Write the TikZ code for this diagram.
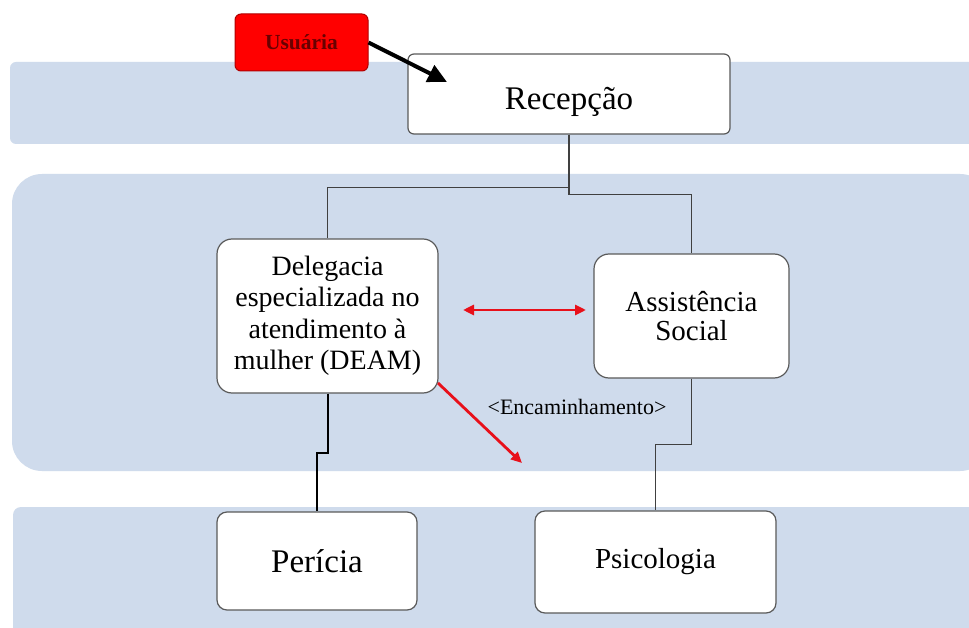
\documentclass[tikz,border=0pt]{standalone}
\usepackage{fontspec}
\setmainfont{Liberation Serif}
\usetikzlibrary{arrows.meta,calc}
\definecolor{band}{HTML}{CFDBEC}
\definecolor{boxline}{HTML}{5A5A5A}
\definecolor{usufill}{HTML}{FF0000}
\definecolor{usuline}{HTML}{B00000}
\definecolor{usutext}{HTML}{6A0000}
\definecolor{redarrow}{HTML}{E8101A}
\definecolor{connline}{HTML}{404040}
\tikzset{
  bandshape/.style={fill=band, draw=none},
  whitebox/.style={draw=boxline, fill=white, line width=1.2pt, align=center, inner sep=0pt},
  usubox/.style={draw=usuline, fill=usufill, line width=1pt, rounded corners=6pt, inner sep=0pt,
    minimum width=133pt, minimum height=57pt, text=usutext, font=\bfseries\fontsize{21.5}{24}\selectfont},
  conn/.style={draw=connline, line width=1.4pt},
  blkconn/.style={draw=black, line width=2pt},
  redarr/.style={draw=redarrow, line width=2.8pt, -{Triangle[length=11pt,width=10pt]}},
  redbiarr/.style={draw=redarrow, line width=2.8pt, {Triangle[length=11pt,width=10pt]}-{Triangle[length=11pt,width=10pt]}},
  blkarr/.style={draw=black, line width=4pt, -{Triangle[length=19pt,width=18pt]}},
  lbl/.style={inner sep=0pt, font=\fontsize{22}{24}\selectfont}
}
\begin{document}
\begin{tikzpicture}[x=1pt,y=-1pt]
\clip (0,0) rectangle (969,628);
\fill[white] (0,0) rectangle (969,628);
% bands
\path[bandshape, rounded corners=6pt] (10,62) rectangle (1000,144);
\path[bandshape, rounded corners=30pt] (12,174) rectangle (990,471);
\path[bandshape, rounded corners=8pt] (13,507) rectangle (1000,660);
% nodes
\node[usubox] (usu) at (301.5,42.5) {Usuária};
\node[whitebox, rounded corners=6pt, minimum width=322pt, minimum height=80pt,
  font=\fontsize{33}{36}\selectfont, text height=35pt, text depth=3pt] (rec) at (569,94) {Recepção};
\node[whitebox, rounded corners=15pt, minimum width=221pt, minimum height=154pt,
  font=\fontsize{28}{31.5}\selectfont] (deam) at (327.5,316)
  {Delegacia\\especializada no\\atendimento à\\mulher (DEAM)};
\node[whitebox, rounded corners=15pt, minimum width=195pt, minimum height=124pt,
  font=\fontsize{29}{29}\selectfont] (assist) at (691.5,316) {Assistência\\Social};
\node[whitebox, rounded corners=10pt, minimum width=200pt, minimum height=98pt,
  font=\fontsize{33}{36}\selectfont] (peri) at (317,561) {Perícia};
\node[whitebox, rounded corners=10pt, minimum width=241pt, minimum height=102pt,
  font=\fontsize{29}{32}\selectfont] (psi) at (655.5,562) {Psicologia};
\node[lbl] (enc) at (577,407) {<Encaminhamento>};
% free ends
\coordinate (usutip) at (447,82);
\coordinate (bil) at (463,310);
\coordinate (bir) at (586,310);
\coordinate (encstart) at (438,383);
\coordinate (enctip) at (522,463);
% connectors
\draw[conn] (rec.south) -- ++(0,53) -| (deam.north);
\draw[conn] (rec.south) -- ++(0,60) -| (assist.north);
\draw[blkconn] (deam.south) -- ++(0,59) -| (peri.north);
\draw[conn] (assist.south) -- ++(0,66) -| (psi.north);
\draw[redbiarr] (bil) -- (bir);
\draw[redarr] (encstart) -- (enctip);
\draw[blkarr] (usu.east) -- (usutip);
\end{tikzpicture}
\end{document}
